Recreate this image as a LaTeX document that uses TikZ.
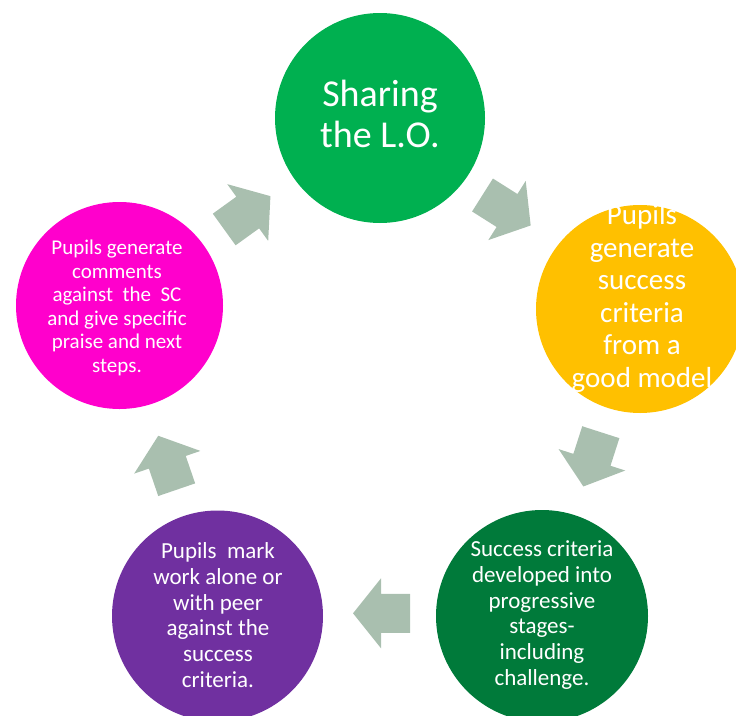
\documentclass[tikz,border=0pt]{standalone}
\usepackage{fontspec}
\setmainfont{Carlito}
\definecolor{cgreen}{HTML}{00B050}
\definecolor{corange}{HTML}{FFC000}
\definecolor{cdkgreen}{HTML}{007A3A}
\definecolor{cpurple}{HTML}{7030A0}
\definecolor{cmagenta}{HTML}{FF00CC}
\definecolor{carrow}{HTML}{A9BFAF}
\tikzset{
  disc/.style={circle, inner sep=0pt, draw=none, minimum size=#1},
  label text/.style={text=white, align=center, inner sep=0pt},
  flowarrow/.pic={\fill[carrow] (0,-19.5) -- (29,-19.5) -- (29,-35) -- (57,0) -- (29,35) -- (29,19.5) -- (0,19.5) -- cycle;}
}
\begin{document}
\begin{tikzpicture}[x=1pt,y=-1pt]
\useasboundingbox (0,0) rectangle (736,715);
\clip (0,0) rectangle (736,715);
% circles
\node[disc=210pt, fill=cgreen]   (lo)   at (380,118)   {};
\node[disc=208pt, fill=corange]  (gen)  at (640,309)   {};
\node[disc=212pt, fill=cdkgreen] (dev)  at (542,616)   {};
\node[disc=211pt, fill=cpurple]  (mark) at (217.5,616) {};
\node[disc=207pt, fill=cmagenta] (comm) at (119.5,305.5) {};
% texts
\node[label text, font=\fontsize{38}{41}\selectfont] (lotext) at (380,114) {Sharing\\the L.O.};
\node[label text, font=\fontsize{29}{32.5}\selectfont] (gentext) at (642,298.5) {Pupils\\generate\\success\\criteria\\from a\\good model};
\node[label text, font=\fontsize{23}{25.7}\selectfont] (devtext) at (542,615) {Success criteria\\developed into\\progressive\\stages-\\including\\challenge.};
\node[label text, font=\fontsize{23}{25.7}\selectfont] (marktext) at (218,615) {Pupils~ mark\\work alone or\\with peer\\against the\\success\\criteria.};
\node[label text, font=\fontsize{21}{23.5}\selectfont] (commtext) at (117,308) {Pupils generate\\comments\\against~ the~ SC\\and give specific\\praise and next\\steps.};
% block arrows
\pic[rotate=-32.3] at (482.5,195) {flowarrow};
\pic[rotate=252.2] at (600.8,432.2) {flowarrow};
\pic[rotate=180] at (410,613.3) {flowarrow};
\pic[rotate=108.9] at (176.7,489.7) {flowarrow};
\pic[rotate=35.8] at (224.2,229.5) {flowarrow};
\end{tikzpicture}
\end{document}
